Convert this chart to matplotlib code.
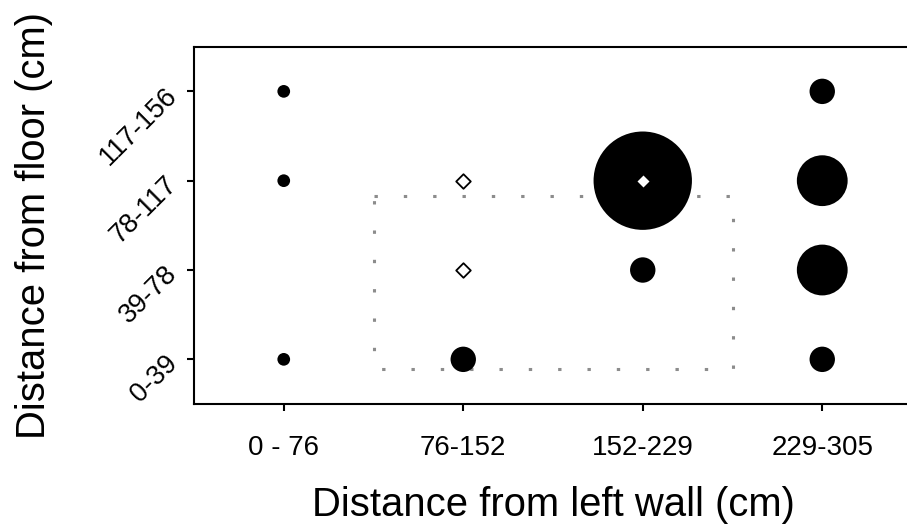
import matplotlib
matplotlib.use("Agg")
import matplotlib.pyplot as plt

plt.rcParams["font.family"] = ["Liberation Sans", "DejaVu Sans"]

# ── Data ─────────────────────────────────────────────────────────────────────
x_labels = ["0 - 76", "76-152", "152-229", "229-305"]
y_labels = ["0-39", "39-78", "78-117", "117-156"]

# bubble positions (category index, 1-based) and counts
pt_x = [1, 1, 1, 2, 3, 3, 4, 4, 4, 4]
pt_y = [1, 3, 4, 1, 2, 3, 1, 2, 3, 4]
pt_n = [1, 1, 1, 4, 4, 60, 4, 16, 16, 4]

# marked locations (diamonds)
mark_x = [2, 2, 3]
mark_y = [2, 3, 3]

# dotted region outline (in category units)
box_x = [1.5, 3.5]
box_y = [0.89, 2.83]

# ── Figure ───────────────────────────────────────────────────────────────────
fig = plt.figure(figsize=(9.07, 5.25), dpi=100)
ax = fig.add_axes([194 / 907, (525 - 404) / 525, 718 / 907, 357.3 / 525])

base = 83.6  # points^2 per count
ax.scatter(pt_x, pt_y, s=[n * base for n in pt_n], color="black",
           edgecolors="none", zorder=3)
ax.scatter(mark_x, mark_y, s=55, marker="D", facecolor="white",
           edgecolor="black", linewidths=1.3, zorder=4)

ax.plot([box_x[0], box_x[1], box_x[1], box_x[0], box_x[0]],
        [box_y[1], box_y[1], box_y[0], box_y[0], box_y[1]],
        color="#8c8c8c", linewidth=2.2, linestyle=(0, (1.1, 8.5)),
        zorder=2)

ax.set_xlim(0.5, 4.5)
ax.set_ylim(0.5, 4.5)
ax.set_xticks(range(1, len(x_labels) + 1))
ax.set_xticklabels(x_labels, fontsize=20)
ax.set_yticks(range(1, len(y_labels) + 1))
ax.set_yticklabels(y_labels, fontsize=19.5, rotation=45,
                   ha="right", va="center", rotation_mode="anchor")

for sp in ax.spines.values():
    sp.set_linewidth(1.5)
ax.tick_params(axis="both", length=5, width=1.5, colors="black")
ax.tick_params(axis="x", pad=17)
ax.tick_params(axis="y", pad=10)

ax.set_xlabel("Distance from left wall (cm)", fontsize=28.8, labelpad=18)
ax.set_ylabel("Distance from floor (cm)", fontsize=28.8, labelpad=30)

fig.savefig("out.png", dpi=100)
